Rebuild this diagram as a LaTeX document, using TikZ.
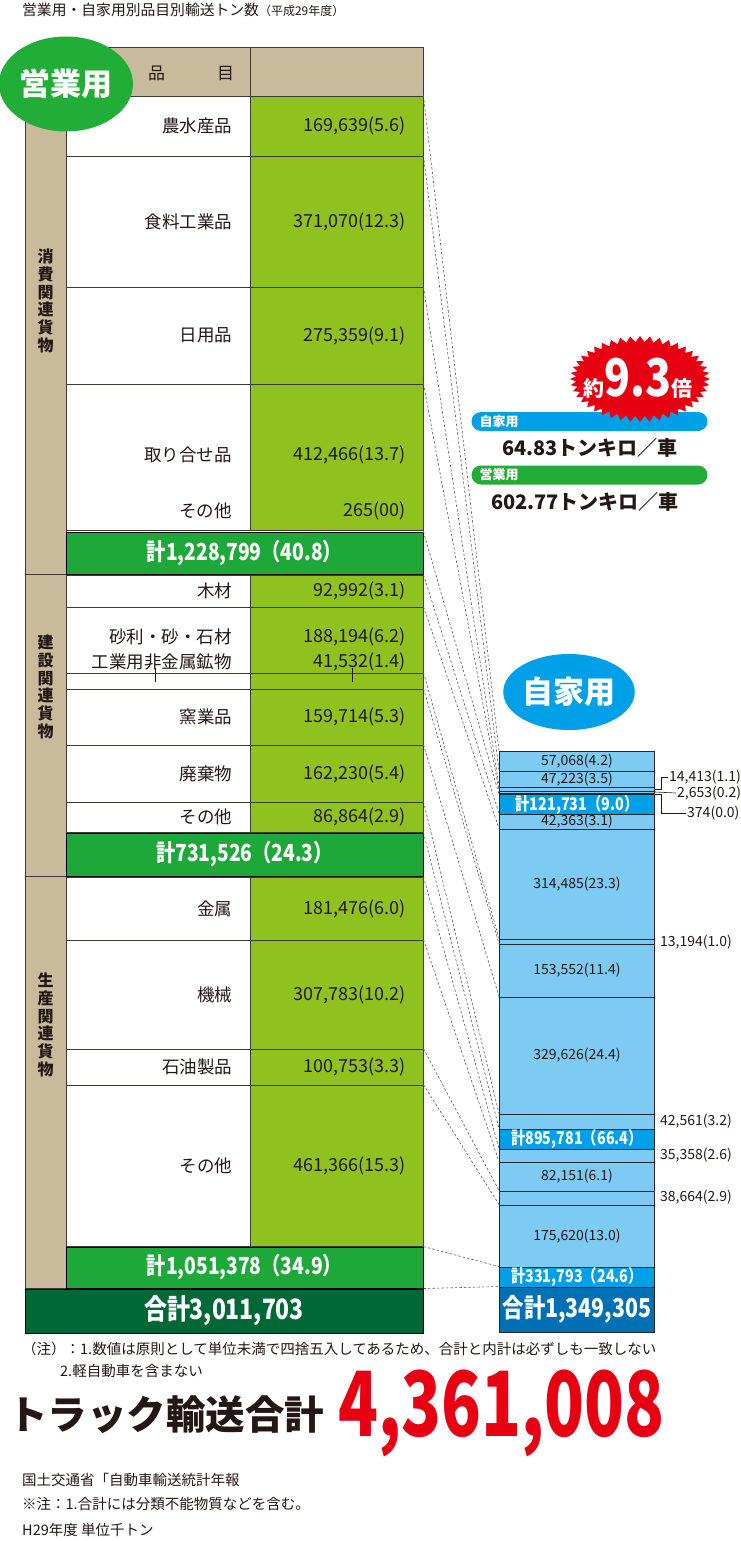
\documentclass[tikz,border=0pt]{standalone}
\usepackage{fontspec}
\setmainfont{Noto Sans CJK JP}
\newfontfamily\condfont{Noto Sans CJK JP}[FakeStretch=0.82]
\usepackage{tikz}
\usetikzlibrary{shapes.geometric,shapes.symbols}
\definecolor{beige}{RGB}{200,186,154}
\definecolor{valgreen}{RGB}{143,193,31}
\definecolor{sumgreen}{RGB}{31,168,58}
\definecolor{totgreen}{RGB}{0,104,55}
\definecolor{ovalgreen}{RGB}{34,172,56}
\definecolor{lightblue}{RGB}{125,203,242}
\definecolor{bluesum}{RGB}{0,160,233}
\definecolor{bluetot}{RGB}{0,112,180}
\definecolor{redmark}{RGB}{230,0,18}
\definecolor{textdark}{RGB}{35,24,21}
\definecolor{linegray}{RGB}{60,60,55}
\newcommand\fsz[1]{\fontsize{#1}{#1}\selectfont\relax}
\newcommand\lrow[5]{%
  \node[itemcell, minimum height={#3-#2}] (#1i) at (158, {(#2+#3)/2}) {#4};
  \node[valcell, minimum height={#3-#2}] (#1) at (336.5, {(#2+#3)/2}) {#5};
}
\newcommand\rrow[5]{%
  \node[#4, minimum height={#3-#2}] (#1) at (577, {(#2+#3)/2}) {#5};
}

\begin{document}
\begin{tikzpicture}[x=1pt, y=-1pt,
  cell/.style={draw=linegray, line width=0.9pt, inner ysep=0pt},
  itemcell/.style={cell, fill=white, text width=148pt, inner xsep=18pt, align=right, font=\fsz{17.5}, text=textdark},
  valcell/.style={cell, fill=valgreen, text width=139pt, inner xsep=17pt, align=right, font=\fsz{18}, text=textdark},
  sumcell/.style={cell, draw=black, fill=sumgreen, minimum width=357pt, text=white, font=\condfont\fsz{23.5}\bfseries},
  groupcell/.style={cell, fill=beige, minimum width=41pt},
  grouptxt/.style={align=center, font=\fontsize{16}{17.8}\selectfont\bfseries, text=textdark, inner sep=0pt},
  itemtxt/.style={anchor=east, font=\fsz{17.5}, text=textdark, inner sep=0pt},
  valtxt/.style={anchor=east, font=\fsz{18}, text=textdark, inner sep=0pt},
  rcell/.style={draw=black!85, line width=1pt, fill=lightblue, minimum width=155pt, inner ysep=0pt, font=\fsz{14}, text=textdark},
  rsum/.style={rcell, fill=bluesum, text=white, font=\condfont\fsz{17.5}\bfseries},
  rtot/.style={rcell, fill=bluetot, text=white, font=\condfont\fsz{26}\bfseries},
  sidelab/.style={anchor=west, font=\fsz{14}, text=textdark, inner sep=1pt},
  lead/.style={draw=textdark, line width=0.6pt},
  dashline/.style={draw=gray!70!black, line width=0.6pt, dash pattern=on 2.5pt off 2pt},
  badge/.style={ellipse, text=white, font=\fsz{31}\bfseries, inner sep=0pt},
  pill/.style={rounded corners=9.5pt, minimum height=19pt, text width=220pt, inner xsep=8pt, inner ysep=0pt, align=left, text=white, font=\fsz{13}\bfseries},
  rate/.style={font=\fsz{20}\bfseries, text=textdark, inner sep=0pt},
  note/.style={anchor=west, text=textdark, inner sep=0pt}]
\useasboundingbox (0,0) rectangle (740,1541);

\node[note, font=\fsz{14.8}] (title) at (22,10) {営業用・自家用別品目別輸送トン数{\fsz{12}（平成29年度）}};

% header
\node[cell, fill=beige, minimum width=225, minimum height=49] (H1) at (137.5,71.5) {};
\node[cell, fill=beige, minimum width=173, minimum height=49] (H2) at (336.5,71.5) {};
\node[font=\fsz{17}, text=textdark] (htxt) at (191,73) {品\hspace{52pt}目};

% groups
\node[groupcell, minimum height=478] (G1) at (45.5,335) {};
\node[groupcell, minimum height=302] (G2) at (45.5,725) {};
\node[groupcell, minimum height=412] (G3) at (45.5,1082) {};
\node[grouptxt] (G1t) at (45.5,301) {消\\費\\関\\連\\貨\\物};
\node[grouptxt] (G2t) at (45.5,687) {建\\設\\関\\連\\貨\\物};
\node[grouptxt] (G3t) at (45.5,1025) {生\\産\\関\\連\\貨\\物};

% rows of the commercial table
\lrow{L1}{96}{156}{農水産品}{169,639(5.6)}
\lrow{L2}{156}{287}{食料工業品}{371,070(12.3)}
\lrow{L3}{287}{384}{日用品}{275,359(9.1)}
\lrow{L4}{384}{530}{}{}
\node[itemtxt] (L4a) at (232,455) {取り合せ品};
\node[valtxt] (L4b) at (406,455) {412,466(13.7)};
\node[itemtxt] (L5a) at (232,511) {その他};
\node[valtxt] (L5b) at (406,511) {265(00)};
\node[sumcell, minimum height=42] (L6) at (244.5,553) {計1,228,799（40.8）};
\lrow{L7}{575}{607}{木材}{92,992(3.1)}
\lrow{L8}{607}{673}{}{}
\node[itemtxt] (L8a) at (232,637) {砂利・砂・石材};
\node[valtxt] (L8b) at (406,637) {188,194(6.2)};
\node[itemtxt] (L9a) at (232,662) {工業用非金属鉱物};
\node[valtxt] (L9b) at (406,662) {41,532(1.4)};
\lrow{L9}{673}{689}{}{}
\draw[lead] (155,668) -- (155,682);
\draw[lead] (352,668) -- (352,682);
\lrow{L10}{689}{745}{窯業品}{159,714(5.3)}
\lrow{L11}{745}{802}{廃棄物}{162,230(5.4)}
\lrow{L12}{802}{832}{その他}{86,864(2.9)}
\node[sumcell, minimum height=43] (L13) at (244.5,854.5) {計731,526（24.3）};
\lrow{L14}{877}{940}{金属}{181,476(6.0)}
\lrow{L15}{940}{1049}{機械}{307,783(10.2)}
\lrow{L16}{1049}{1085}{石油製品}{100,753(3.3)}
\lrow{L17}{1085}{1246}{その他}{461,366(15.3)}
\node[sumcell, minimum height=41] (L18) at (244.5,1267.5) {計1,051,378（34.9）};
\node[cell, draw=black, fill=totgreen, minimum width=398, minimum height=44, text=white, font=\condfont\fsz{28}\bfseries] (L19) at (224,1311) {合計3,011,703};
\node[badge, fill=ovalgreen, minimum width=134, minimum height=95] (eigyo) at (66,84) {営業用};

% private column
\node[badge, fill=bluesum, minimum width=118, minimum height=76] (jika) at (569,692) {自家用};
\rrow{R1}{751}{771}{rcell}{57,068(4.2)}
\rrow{R2}{771}{787}{rcell}{47,223(3.5)}
\rrow{R3}{787}{791}{rcell}{}
\rrow{R4}{791}{793}{rcell}{}
\rrow{R5}{793}{795}{rcell}{}
\rrow{R6}{795}{814}{rsum}{計121,731（9.0）}
\rrow{R7}{814}{829}{rcell}{42,363(3.1)}
\rrow{R8}{829}{939}{rcell}{314,485(23.3)}
\rrow{R9}{939}{944}{rcell}{}
\rrow{R10}{944}{997}{rcell}{153,552(11.4)}
\rrow{R11}{997}{1114}{rcell}{329,626(24.4)}
\rrow{R12}{1114}{1129}{rcell}{}
\rrow{R13}{1129}{1149}{rsum}{計895,781（66.4）}
\rrow{R14}{1149}{1162}{rcell}{}
\rrow{R15}{1162}{1191}{rcell}{82,151(6.1)}
\rrow{R16}{1191}{1205}{rcell}{}
\rrow{R17}{1205}{1267}{rcell}{175,620(13.0)}
\rrow{R18}{1267}{1287}{rsum}{計331,793（24.6）}
\rrow{R19}{1287}{1332}{rtot}{合計1,349,305}

\node[sidelab] (s3) at (668,777) {14,413(1.1)};
\node[sidelab] (s4) at (676,793) {2,653(0.2)};
\node[sidelab] (s5) at (686,813) {374(0.0)};
\node[sidelab] (s9) at (659,942) {13,194(1.0)};
\node[sidelab] (s12) at (659,1121) {42,561(3.2)};
\node[sidelab] (s14) at (659,1155) {35,358(2.6)};
\node[sidelab] (s16) at (659,1197) {38,664(2.9)};
\draw[lead] (R3.east) -- ++(6,0) |- (s3.west);
\draw[lead] (R4.east) -- (s4.west);
\draw[lead] (R5.east) -- ++(6,0) |- (s5.west);

\foreach \i in {1,2,3,4,6,7,8,9,10,11,12,13,14,15,16,17,18,19}
  \draw[dashline] (L\i.north east) -- (R\i.north west);

% ratio box
\node[pill, fill=bluesum] (p1) at (589.5,421.5) {自家用};
\node[rate] (r1) at (590,448) {64.83トンキロ／車};
\node[pill, fill=ovalgreen] (p2) at (589.5,475) {営業用};
\node[rate] (r2) at (585,502) {602.77トンキロ／車};
\node[starburst, fill=redmark, starburst points=44, starburst point height=6pt, random starburst=0, minimum width=140pt, minimum height=86pt, inner sep=0pt] (burst) at (640,379) {};
\node[text=white, font=\bfseries, inner sep=0pt] (bursttxt) at (638,378) {{\fsz{21}約}{\condfont\fsz{52}9.3}{\fsz{21}倍}};

% notes
\node[note, font=\fsz{14.5}] (n1) at (22,1349) {（注）：1.数値は原則として単位未満で四捨五入してあるため、合計と内計は必ずしも一致しない};
\node[note, font=\fsz{14.5}] (n2) at (60,1371) {2.軽自動車を含まない};
\node[note, font=\fsz{39.5}\bfseries] (tt) at (8,1415) {トラック輸送合計};
\node[note, font=\fsz{90}\bfseries, text=redmark] (tn) at (338,1413) {\scalebox{0.73}[1]{4,361,008}};
\node[note, font=\fsz{14.5}] (src1) at (22,1480) {国土交通省「自動車輸送統計年報};
\node[note, font=\fsz{14.5}] (src2) at (22,1504) {※注：1.合計には分類不能物質などを含む。};
\node[note, font=\fsz{14.5}] (src3) at (22,1530) {H29年度 単位千トン};
\end{tikzpicture}
\end{document}
